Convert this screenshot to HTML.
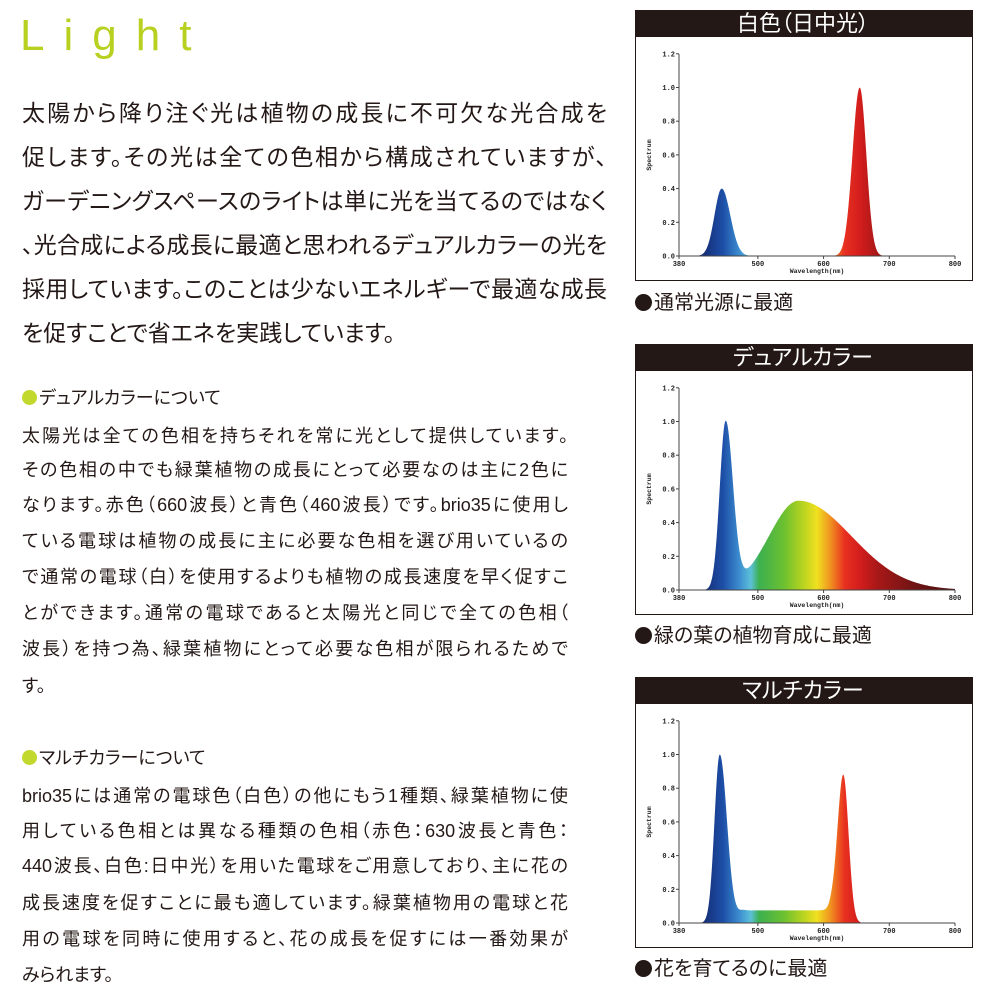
<!DOCTYPE html>
<html><head><meta charset="utf-8">
<style>
html,body{margin:0;padding:0;background:#fff;}
body{width:1000px;height:1000px;position:relative;overflow:hidden;font-family:"Liberation Sans","Noto Sans CJK JP",sans-serif;color:#231815;font-feature-settings:"palt";}
.l{position:absolute;left:22px;white-space:nowrap;}
.m{font-size:23px;line-height:34px;width:585px;text-align:justify;text-align-last:justify;}
.s{font-size:18px;line-height:26px;width:546px;text-align:justify;text-align-last:justify;}
.n{text-align:left;text-align-last:left;width:auto;}
.dot{display:inline-block;width:15px;height:15px;border-radius:50%;background:#c2d82c;vertical-align:-1px;margin-right:2px;}
.title{position:absolute;left:20px;top:8px;font-size:44px;line-height:56px;letter-spacing:19px;color:#b8d020;font-weight:300;}
.cap{position:absolute;left:635px;font-size:20px;line-height:26px;white-space:nowrap;}
.cap b{display:inline-block;width:17px;height:17px;border-radius:50%;background:#231815;vertical-align:-2px;margin-right:2px;}
</style></head><body>
<div class="title">Light</div>
<div class="l m" style="top:96px">太陽から降り注ぐ光は植物の成長に不可欠な光合成を</div>
<div class="l m" style="top:140px">促します。その光は全ての色相から構成されていますが、</div>
<div class="l m" style="top:184px">ガーデニングスペースのライトは単に光を当てるのではなく</div>
<div class="l m" style="top:228px">、光合成による成長に最適と思われるデュアルカラーの光を</div>
<div class="l m" style="top:272px">採用しています。このことは少ないエネルギーで最適な成長</div>
<div class="l m" style="top:316px;width:373px">を促すことで省エネを実践しています。</div>

<div class="l s n" style="top:385px"><span class="dot"></span>デュアルカラーについて</div>
<div class="l s" style="top:423px">太陽光は全ての色相を持ちそれを常に光として提供しています。</div>
<div class="l s" style="top:457px">その色相の中でも緑葉植物の成長にとって必要なのは主に2色に</div>
<div class="l s" style="top:492px">なります。赤色（660波長）と青色（460波長）です。brio35に使用し</div>
<div class="l s" style="top:528px">ている電球は植物の成長に主に必要な色相を選び用いているの</div>
<div class="l s" style="top:564px">で通常の電球（白）を使用するよりも植物の成長速度を早く促すこ</div>
<div class="l s" style="top:600px">とができます。通常の電球であると太陽光と同じで全ての色相（</div>
<div class="l s" style="top:636px">波長）を持つ為、緑葉植物にとって必要な色相が限られるためで</div>
<div class="l s n" style="top:673px">す。</div>

<div class="l s n" style="top:745px"><span class="dot"></span>マルチカラーについて</div>
<div class="l s" style="top:783px">brio35には通常の電球色（白色）の他にもう1種類、緑葉植物に使</div>
<div class="l s" style="top:818px">用している色相とは異なる種類の色相（赤色：630波長と青色：</div>
<div class="l s" style="top:853px">440波長、白色:日中光）を用いた電球をご用意しており、主に花の</div>
<div class="l s" style="top:890px">成長速度を促すことに最も適しています。緑葉植物用の電球と花</div>
<div class="l s" style="top:926px">用の電球を同時に使用すると、花の成長を促すには一番効果が</div>
<div class="l s n" style="top:962px">みられます。</div>

<div class="cap" style="top:290px"><b></b>通常光源に最適</div>
<div class="cap" style="top:623px"><b></b>緑の葉の植物育成に最適</div>
<div class="cap" style="top:956px"><b></b>花を育てるのに最適</div>

<svg id="sv" width="1000" height="1000" style="position:absolute;left:0;top:0" xmlns="http://www.w3.org/2000/svg">
<defs>
<linearGradient id="wl" gradientUnits="userSpaceOnUse" x1="679" y1="0" x2="955" y2="0">
<stop offset="0" stop-color="#141a60"/>
<stop offset="0.095" stop-color="#16307a"/>
<stop offset="0.16" stop-color="#1d4fa8"/>
<stop offset="0.22" stop-color="#3d8fd0"/>
<stop offset="0.26" stop-color="#5cc0d8"/>
<stop offset="0.29" stop-color="#3cb050"/>
<stop offset="0.38" stop-color="#6cc030"/>
<stop offset="0.45" stop-color="#b8d420"/>
<stop offset="0.50" stop-color="#f0e020"/>
<stop offset="0.55" stop-color="#f09020"/>
<stop offset="0.60" stop-color="#e83020"/>
<stop offset="0.66" stop-color="#d01c1c"/>
<stop offset="0.72" stop-color="#a81818"/>
<stop offset="0.85" stop-color="#701414"/>
<stop offset="1" stop-color="#501010"/>
</linearGradient>
</defs>
<g id="charts"></g>
</svg>
<script>
(function(){
var g=document.getElementById('charts');var ns='http://www.w3.org/2000/svg';
function el(t,a,txt){var e=document.createElementNS(ns,t);for(var k in a)e.setAttribute(k,a[k]);if(txt!==undefined)e.textContent=txt;g.appendChild(e);return e;}
function X(w){return 679+(w-380)*276/420;}
function gs(w,c,s){return Math.exp(-0.5*Math.pow((w-c)/s,2));}
function as(w,c,s1,s2){return gs(w,c,w<c?s1:s2);}
var titles=['白色（日中光）','デュアルカラー','マルチカラー'];
var fns=[
 function(w){return 0.40*as(w,445,11,13)+1.0*as(w,655,11,10);},
 function(w){return 1.0*as(w,451,9,11)+0.53*as(w,562,45,80)*(w>470?1:Math.exp(-Math.pow((470-w)/15,2)));},
 function(w){return 1.0*as(w,442,8,11)+0.075*(w>480&&w<610?1:w<=480?Math.exp(-Math.pow((480-w)/15,2)):Math.exp(-Math.pow((w-610)/10,2)))+0.88*as(w,630,9,8);}
];
for(var i=0;i<3;i++){
 var o=[0,334,667][i];
 el('rect',{x:635.5,y:36.5+o,width:337,height:244,fill:'#fff',stroke:'#231815','stroke-width':1});
 el('rect',{x:635,y:10+o,width:338,height:26,fill:'#231815'});
 el('text',{x:803,y:31+o,'text-anchor':'middle',fill:'#fff','font-size':22,'font-family':'Liberation Sans,Noto Sans CJK JP,sans-serif'},titles[i]);
 var y0=256+o,sc=168.5;
 var d='M'+X(385)+','+y0;
 for(var w=385;w<=800;w+=1){d+=' L'+X(w).toFixed(2)+','+(y0-fns[i](w)*sc).toFixed(2);}
 d+=' L'+X(800)+','+y0+' Z';
 el('path',{d:d,fill:'url(#wl)'});
 el('line',{x1:679,y1:54+o,x2:679,y2:y0,stroke:'#444','stroke-width':1});
 el('line',{x1:679,y1:y0,x2:955,y2:y0,stroke:'#444','stroke-width':1});
 for(var k=0;k<=6;k++){var yy=y0-k*0.2*sc;
  el('line',{x1:676,y1:yy,x2:679,y2:yy,stroke:'#444'});
  el('text',{x:675,y:yy+2.5,'text-anchor':'end','font-size':7,'font-weight':'bold','font-family':'Liberation Mono,monospace',fill:'#222'},(k*0.2).toFixed(1));}
 [[380,'380'],[500,'500'],[600,'600'],[700,'700'],[800,'800']].forEach(function(t){
  el('line',{x1:X(t[0]),y1:y0,x2:X(t[0]),y2:y0+3,stroke:'#444'});
  el('text',{x:X(t[0]),y:y0+10,'text-anchor':'middle','font-size':7,'font-weight':'bold','font-family':'Liberation Mono,monospace',fill:'#222'},t[1]);});
 el('text',{x:817,y:y0+17,'text-anchor':'middle','font-size':6.5,'font-weight':'bold','font-family':'Liberation Mono,monospace',fill:'#222'},'Wavelength(nm)');
 el('text',{x:0,y:0,transform:'translate(651,'+(155+o)+') rotate(-90)','text-anchor':'middle','font-size':6.5,'font-weight':'bold','font-family':'Liberation Mono,monospace',fill:'#222'},'Spectrum');
}
})();
</script>
</body></html>
